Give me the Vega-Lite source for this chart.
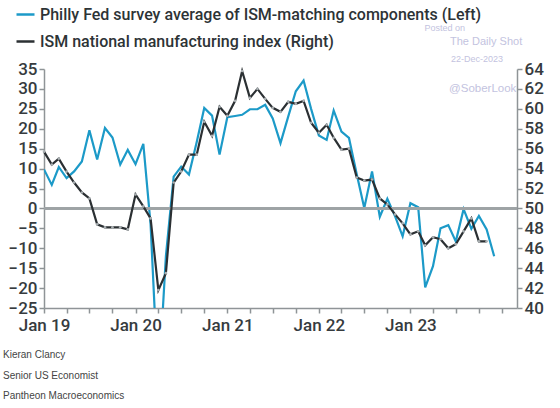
{
  "$schema": "https://vega.github.io/schema/vega-lite/v6.json",
  "width": 473,
  "height": 239,
  "autosize": {"type": "none"},
  "padding": {"left": 44, "top": 69, "right": 43, "bottom": 100},
  "background": "white",
  "config": {
    "view": {"stroke": null},
    "font": "Roboto",
    "axis": {
      "labelFont": "Roboto",
      "labelFontSize": 17,
      "labelFontWeight": 500,
      "labelColor": "#363b3e",
      "domainColor": "#8f9497",
      "domainWidth": 1.5,
      "tickColor": "#8f9497",
      "tickWidth": 1.5,
      "tickSize": 5,
      "grid": false,
      "labelOverlap": false
    },
    "legend": {
      "orient": "none",
      "legendX": -29,
      "legendY": -65,
      "direction": "vertical",
      "symbolType": "stroke",
      "symbolStrokeWidth": 2.5,
      "symbolSize": 324,
      "labelFont": "Roboto",
      "labelFontSize": 16,
      "labelFontWeight": 500,
      "labelColor": "#2d3336",
      "labelOffset": 4,
      "rowPadding": 8,
      "padding": 0,
      "title": null,
      "labelLimit": 600
    }
  },
  "title": {
    "text": ["Kieran Clancy", "Senior US Economist", "Pantheon Macroeconomics"],
    "orient": "bottom",
    "anchor": "start",
    "frame": "group",
    "font": "Liberation Sans",
    "fontSize": 10,
    "fontWeight": "normal",
    "color": "#444444",
    "lineHeight": 20.5,
    "offset": 17,
    "dx": -41
  },
  "datasets": {
    "philly": [
      {"date": "2019-01-01", "value": 9.8}, {"date": "2019-02-01", "value": 5.9}, {"date": "2019-03-01", "value": 10.4},
      {"date": "2019-04-01", "value": 7.6}, {"date": "2019-05-01", "value": 9.3}, {"date": "2019-06-01", "value": 11.8},
      {"date": "2019-07-01", "value": 19.6}, {"date": "2019-08-01", "value": 12.3}, {"date": "2019-09-01", "value": 20.2},
      {"date": "2019-10-01", "value": 17.8}, {"date": "2019-11-01", "value": 11.0}, {"date": "2019-12-01", "value": 14.7},
      {"date": "2020-01-01", "value": 11.1}, {"date": "2020-02-01", "value": 16.2}, {"date": "2020-03-01", "value": -4.0},
      {"date": "2020-04-01", "value": -45.0}, {"date": "2020-05-01", "value": -12.0}, {"date": "2020-06-01", "value": 8.0},
      {"date": "2020-07-01", "value": 10.5}, {"date": "2020-08-01", "value": 8.5}, {"date": "2020-09-01", "value": 16.7},
      {"date": "2020-10-01", "value": 25.2}, {"date": "2020-11-01", "value": 23.3}, {"date": "2020-12-01", "value": 13.5},
      {"date": "2021-01-01", "value": 22.9}, {"date": "2021-02-01", "value": 23.2}, {"date": "2021-03-01", "value": 23.5},
      {"date": "2021-04-01", "value": 24.9}, {"date": "2021-05-01", "value": 24.9}, {"date": "2021-06-01", "value": 26.0},
      {"date": "2021-07-01", "value": 22.6}, {"date": "2021-08-01", "value": 16.4}, {"date": "2021-09-01", "value": 23.1},
      {"date": "2021-10-01", "value": 29.4}, {"date": "2021-11-01", "value": 32.1}, {"date": "2021-12-01", "value": 25.0},
      {"date": "2022-01-01", "value": 18.3}, {"date": "2022-02-01", "value": 17.2}, {"date": "2022-03-01", "value": 24.6},
      {"date": "2022-04-01", "value": 19.3}, {"date": "2022-05-01", "value": 17.7}, {"date": "2022-06-01", "value": 8.6},
      {"date": "2022-07-01", "value": 0.1}, {"date": "2022-08-01", "value": 9.3}, {"date": "2022-09-01", "value": -2.1},
      {"date": "2022-10-01", "value": 2.4}, {"date": "2022-11-01", "value": -2.0}, {"date": "2022-12-01", "value": -7.0},
      {"date": "2023-01-01", "value": 1.3}, {"date": "2023-02-01", "value": 0.3}, {"date": "2023-03-01", "value": -19.8},
      {"date": "2023-04-01", "value": -14.5}, {"date": "2023-05-01", "value": -5.0}, {"date": "2023-06-01", "value": -4.2},
      {"date": "2023-07-01", "value": -8.3}, {"date": "2023-08-01", "value": -0.2}, {"date": "2023-09-01", "value": -5.1},
      {"date": "2023-10-01", "value": -1.9}, {"date": "2023-11-01", "value": -5.3}, {"date": "2023-12-01", "value": -12.0}
    ],
    "ism": [
      {"date": "2019-01-01", "value": 55.7}, {"date": "2019-02-01", "value": 54.4}, {"date": "2019-03-01", "value": 55.0},
      {"date": "2019-04-01", "value": 53.7}, {"date": "2019-05-01", "value": 52.6}, {"date": "2019-06-01", "value": 51.6},
      {"date": "2019-07-01", "value": 51.0}, {"date": "2019-08-01", "value": 48.4}, {"date": "2019-09-01", "value": 48.1},
      {"date": "2019-10-01", "value": 48.1}, {"date": "2019-11-01", "value": 48.1}, {"date": "2019-12-01", "value": 47.9},
      {"date": "2020-01-01", "value": 51.4}, {"date": "2020-02-01", "value": 50.2}, {"date": "2020-03-01", "value": 49.0},
      {"date": "2020-04-01", "value": 41.8}, {"date": "2020-05-01", "value": 43.5}, {"date": "2020-06-01", "value": 52.6},
      {"date": "2020-07-01", "value": 53.7}, {"date": "2020-08-01", "value": 55.4}, {"date": "2020-09-01", "value": 55.4},
      {"date": "2020-10-01", "value": 58.7}, {"date": "2020-11-01", "value": 57.3}, {"date": "2020-12-01", "value": 60.2},
      {"date": "2021-01-01", "value": 59.3}, {"date": "2021-02-01", "value": 60.8}, {"date": "2021-03-01", "value": 63.8},
      {"date": "2021-04-01", "value": 61.1}, {"date": "2021-05-01", "value": 62.0}, {"date": "2021-06-01", "value": 61.0},
      {"date": "2021-07-01", "value": 60.1}, {"date": "2021-08-01", "value": 59.7}, {"date": "2021-09-01", "value": 60.7},
      {"date": "2021-10-01", "value": 60.5}, {"date": "2021-11-01", "value": 60.8}, {"date": "2021-12-01", "value": 58.6},
      {"date": "2022-01-01", "value": 57.6}, {"date": "2022-02-01", "value": 58.4}, {"date": "2022-03-01", "value": 57.1},
      {"date": "2022-04-01", "value": 55.9}, {"date": "2022-05-01", "value": 56.0}, {"date": "2022-06-01", "value": 53.1},
      {"date": "2022-07-01", "value": 52.8}, {"date": "2022-08-01", "value": 52.9}, {"date": "2022-09-01", "value": 51.0},
      {"date": "2022-10-01", "value": 50.4}, {"date": "2022-11-01", "value": 49.4}, {"date": "2022-12-01", "value": 48.5},
      {"date": "2023-01-01", "value": 47.4}, {"date": "2023-02-01", "value": 47.7}, {"date": "2023-03-01", "value": 46.3},
      {"date": "2023-04-01", "value": 47.1}, {"date": "2023-05-01", "value": 46.9}, {"date": "2023-06-01", "value": 46.0},
      {"date": "2023-07-01", "value": 46.4}, {"date": "2023-08-01", "value": 47.7}, {"date": "2023-09-01", "value": 49.0},
      {"date": "2023-10-01", "value": 46.7}, {"date": "2023-11-01", "value": 46.7}
    ]
  },
  "layer": [
    {
      "layer": [
        {
          "data": {"name": "philly"},
          "mark": {"type": "line", "strokeWidth": 2.2, "clip": true},
          "encoding": {
            "x": {
              "field": "date", "type": "temporal", "title": null,
              "scale": {"type": "utc", "domain": [{"year": 2019, "month": 1, "date": 1, "utc": true}, {"year": 2024, "month": 3, "date": 1, "utc": true}]},
              "axis": {"tickCount": {"interval": "month", "step": 3}, "labelExpr": "utcmonth(datum.value) == 0 && utcyear(datum.value) < 2024 ? utcFormat(datum.value, '%b %y') : ''", "labelFlush": false, "labelOverlap": false, "labelPadding": 4}
            },
            "y": {
              "field": "value", "type": "quantitative", "title": null,
              "scale": {"domain": [-25, 35], "nice": false, "zero": false},
              "axis": {"orient": "left", "values": [-25, -20, -15, -10, -5, 0, 5, 10, 15, 20, 25, 30, 35], "labelPadding": 2, "labelOverlap": false}
            },
            "color": {
              "datum": "Philly Fed survey average of ISM-matching components (Left)",
              "scale": {
                "domain": ["Philly Fed survey average of ISM-matching components (Left)", "ISM national manufacturing index (Right)"],
                "range": ["#1c9ac8", "#2b3033"]
              }
            }
          }
        },
        {
          "data": {"name": "philly"},
          "mark": {"type": "rule", "stroke": "#9ea3a5", "strokeWidth": 2},
          "encoding": {
            "y": {"datum": 0, "type": "quantitative", "title": null, "scale": {"domain": [-25, 35], "nice": false, "zero": false},
              "axis": {"orient": "left", "values": [-25, -20, -15, -10, -5, 0, 5, 10, 15, 20, 25, 30, 35], "labelPadding": 2, "labelOverlap": false}}
          }
        },
        {
          "data": {"values": [{}]},
          "mark": {"type": "text", "text": "Posted on", "font": "Liberation Sans", "fontSize": 9, "color": "#c3c3e0", "align": "left", "baseline": "middle"},
          "encoding": {
            "x": {"datum": {"year": 2023, "month": 2, "date": 26, "utc": true}, "type": "temporal", "title": null,
              "axis": {"tickCount": {"interval": "month", "step": 3}, "labelExpr": "utcmonth(datum.value) == 0 && utcyear(datum.value) < 2024 ? utcFormat(datum.value, '%b %y') : ''", "labelFlush": false, "labelOverlap": false, "labelPadding": 4}},
            "y": {"datum": 45.4, "type": "quantitative", "title": null, "scale": {"domain": [-25, 35], "nice": false, "zero": false},
              "axis": {"orient": "left", "values": [-25, -20, -15, -10, -5, 0, 5, 10, 15, 20, 25, 30, 35], "labelPadding": 2, "labelOverlap": false}}
          }
        },
        {
          "data": {"values": [{}]},
          "mark": {"type": "text", "text": "The Daily Shot", "font": "Liberation Sans", "fontSize": 11, "color": "#c3c3e0", "align": "left", "baseline": "middle"},
          "encoding": {
            "x": {"datum": {"year": 2023, "month": 6, "date": 8, "utc": true}, "type": "temporal", "title": null,
              "axis": {"tickCount": {"interval": "month", "step": 3}, "labelExpr": "utcmonth(datum.value) == 0 && utcyear(datum.value) < 2024 ? utcFormat(datum.value, '%b %y') : ''", "labelFlush": false, "labelOverlap": false, "labelPadding": 4}},
            "y": {"datum": 41.9, "type": "quantitative", "title": null, "scale": {"domain": [-25, 35], "nice": false, "zero": false},
              "axis": {"orient": "left", "values": [-25, -20, -15, -10, -5, 0, 5, 10, 15, 20, 25, 30, 35], "labelPadding": 2, "labelOverlap": false}}
          }
        },
        {
          "data": {"values": [{}]},
          "mark": {"type": "text", "text": "22-Dec-2023", "font": "Liberation Sans", "fontSize": 9, "color": "#c3c3e0", "align": "left", "baseline": "middle"},
          "encoding": {
            "x": {"datum": {"year": 2023, "month": 6, "date": 12, "utc": true}, "type": "temporal", "title": null,
              "axis": {"tickCount": {"interval": "month", "step": 3}, "labelExpr": "utcmonth(datum.value) == 0 && utcyear(datum.value) < 2024 ? utcFormat(datum.value, '%b %y') : ''", "labelFlush": false, "labelOverlap": false, "labelPadding": 4}},
            "y": {"datum": 37.6, "type": "quantitative", "title": null, "scale": {"domain": [-25, 35], "nice": false, "zero": false},
              "axis": {"orient": "left", "values": [-25, -20, -15, -10, -5, 0, 5, 10, 15, 20, 25, 30, 35], "labelPadding": 2, "labelOverlap": false}}
          }
        },
        {
          "data": {"values": [{}]},
          "mark": {"type": "text", "text": "@SoberLook", "font": "Liberation Sans", "fontSize": 11.5, "color": "#c3c3e0", "align": "left", "baseline": "middle"},
          "encoding": {
            "x": {"datum": {"year": 2023, "month": 6, "date": 4, "utc": true}, "type": "temporal", "title": null,
              "axis": {"tickCount": {"interval": "month", "step": 3}, "labelExpr": "utcmonth(datum.value) == 0 && utcyear(datum.value) < 2024 ? utcFormat(datum.value, '%b %y') : ''", "labelFlush": false, "labelOverlap": false, "labelPadding": 4}},
            "y": {"datum": 30.1, "type": "quantitative", "title": null, "scale": {"domain": [-25, 35], "nice": false, "zero": false},
              "axis": {"orient": "left", "values": [-25, -20, -15, -10, -5, 0, 5, 10, 15, 20, 25, 30, 35], "labelPadding": 2, "labelOverlap": false}}
          }
        }
      ]
    },
    {
      "layer": [
        {
          "data": {"name": "ism"},
          "mark": {"type": "line", "strokeWidth": 2.2},
          "encoding": {
            "x": {"field": "date", "type": "temporal", "title": null,
              "axis": {"tickCount": {"interval": "month", "step": 3}, "labelExpr": "utcmonth(datum.value) == 0 && utcyear(datum.value) < 2024 ? utcFormat(datum.value, '%b %y') : ''", "labelFlush": false, "labelOverlap": false, "labelPadding": 4}},
            "y": {
              "field": "value", "type": "quantitative", "title": null,
              "scale": {"domain": [40, 64], "nice": false, "zero": false},
              "axis": {"orient": "right", "values": [40, 42, 44, 46, 48, 50, 52, 54, 56, 58, 60, 62, 64], "labelPadding": 2, "labelOverlap": false}
            },
            "color": {"datum": "ISM national manufacturing index (Right)"}
          }
        },
        {
          "data": {"name": "ism"},
          "mark": {"type": "point", "filled": true, "size": 7, "color": "#aab0b3", "opacity": 1},
          "encoding": {
            "x": {"field": "date", "type": "temporal", "title": null,
              "axis": {"tickCount": {"interval": "month", "step": 3}, "labelExpr": "utcmonth(datum.value) == 0 && utcyear(datum.value) < 2024 ? utcFormat(datum.value, '%b %y') : ''", "labelFlush": false, "labelOverlap": false, "labelPadding": 4}},
            "y": {"field": "value", "type": "quantitative", "title": null, "scale": {"domain": [40, 64], "nice": false, "zero": false},
              "axis": {"orient": "right", "values": [40, 42, 44, 46, 48, 50, 52, 54, 56, 58, 60, 62, 64], "labelPadding": 2, "labelOverlap": false}}
          }
        }
      ]
    }
  ],
  "resolve": {"scale": {"y": "independent"}}
}
